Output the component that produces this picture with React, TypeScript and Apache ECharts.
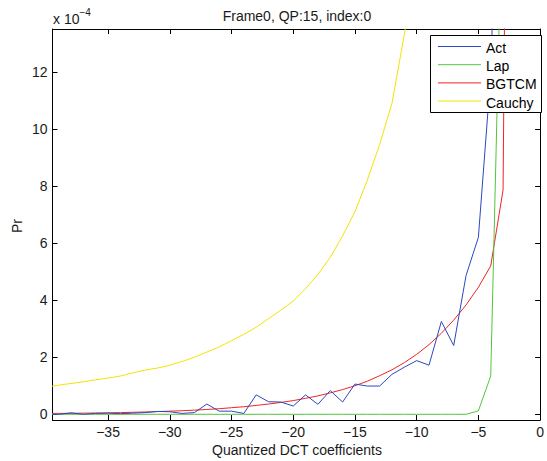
import React, { useEffect, useRef } from "react";
import * as echarts from "echarts";

// x positions (quantized DCT coefficient values)
const xs = [-40, -39, -38, -37, -36, -35, -34, -33, -32, -31, -30, -29, -28, -27, -26, -25, -24, -23, -22, -21,
  -20, -19, -18, -17, -16, -15, -14, -13, -12, -11, -10, -9, -8, -7, -6, -5, -4, -3, -2];

// probabilities in units of 1e-4
const act = [0.0, 0.0, 0.05, 0.0, 0.03, 0.04, 0.02, 0.04, 0.06, 0.1, 0.09, 0.03, 0.06, 0.36, 0.11, 0.11, 0.03, 0.68, 0.44, 0.43,
  0.29, 0.68, 0.35, 0.83, 0.43, 1.06, 0.99, 0.99, 1.4, 1.65, 1.88, 1.72, 3.25, 2.41, 4.86, 6.2, 11.9, 26, 40];
const lap = [0, 0, 0, 0, 0, 0, 0, 0, 0, 0, 0, 0, 0, 0, 0, 0, 0, 0, 0, 0,
  0, 0, 0, 0, 0, 0, 0, 0, 0, 0, 0, 0, 0, 0, 0, 0.12, 1.34, 19.5, 40];
const bgtcm = [0.03, 0.03, 0.035, 0.04, 0.045, 0.05, 0.06, 0.07, 0.08, 0.095, 0.11, 0.125, 0.145, 0.17, 0.195, 0.23, 0.265, 0.31, 0.36, 0.415,
  0.48, 0.56, 0.645, 0.75, 0.865, 1.0, 1.16, 1.35, 1.56, 1.81, 2.1, 2.44, 2.84, 3.3, 3.83, 4.45, 5.2, 7.86, 60];
const cauchy = [0.95, 1.02, 1.08, 1.14, 1.21, 1.27, 1.34, 1.45, 1.55, 1.62, 1.72, 1.85, 2.0, 2.18, 2.36, 2.58, 2.8, 3.05, 3.35, 3.65,
  3.97, 4.4, 4.9, 5.5, 6.25, 7.1, 8.2, 9.45, 10.9, 13.3, 16.0, 19.5, 23.5, 28, 33, 40, 48, 58, 70];

const xTicks = [-35, -30, -25, -20, -15, -10, -5, 0];
const yTicks = [0, 2, 4, 6, 8, 10, 12];
const seriesNames = ["Act", "Lap", "BGTCM", "Cauchy"];
const seriesColors = ["#2b48c0", "#52c43c", "#f02424", "#f2e400"];
const seriesData = [act, lap, bgtcm, cauchy];

const FONT = "Liberation Sans, Arial, Helvetica, sans-serif";

export default function App() {
  const ref = useRef<HTMLDivElement>(null);
  useEffect(() => {
    if (!ref.current) return;
    const chart = echarts.init(ref.current, null, { renderer: "svg" });
    const minus = (v: number) => String(v).replace("-", "\u2212");
    const xBase = {
      type: "value",
      min: -39.5,
      max: 0,
      splitLine: { show: false },
      axisLine: { show: true, onZero: false, lineStyle: { color: "#000", width: 1 } },
      axisTick: { show: true, inside: true, length: 5, customValues: xTicks, lineStyle: { color: "#000" } },
    };
    const yBase = {
      type: "value",
      min: -0.2,
      max: 13.5,
      splitLine: { show: false },
      axisLine: { show: true, onZero: false, lineStyle: { color: "#000", width: 1 } },
      axisTick: { show: true, inside: true, length: 5, customValues: yTicks, lineStyle: { color: "#000" } },
    };

    // manual MATLAB-style legend
    const legLeft = 430;
    const legTop = 35;
    const legW = 111;
    const legH = 77;
    const rowY0 = 46.5;
    const rowStep = 18.2;
    const legendGraphics: any[] = [
      {
        type: "rect",
        z: 100,
        shape: { x: legLeft + 0.5, y: legTop + 0.5, width: legW, height: legH },
        style: { fill: "#fff", stroke: "#000", lineWidth: 1 },
      },
    ];
    seriesNames.forEach((name, i) => {
      const y = rowY0 + i * rowStep;
      legendGraphics.push({
        type: "line",
        z: 101,
        shape: { x1: 438, y1: y, x2: 481, y2: y },
        style: { stroke: seriesColors[i], lineWidth: 1 },
      });
      legendGraphics.push({
        type: "text",
        z: 101,
        style: {
          text: name,
          x: 486,
          y: y + 1.5,
          fill: "#000",
          font: `14px ${FONT}`,
          textAlign: "left",
          textVerticalAlign: "middle",
        },
      });
    });

    chart.setOption({
      animation: false,
      textStyle: { fontFamily: FONT },
      grid: { left: 52.5, top: 29, right: 5, bottom: 41, containLabel: false },
      xAxis: [
        {
          ...xBase,
          position: "bottom",
          axisLabel: {
            customValues: xTicks,
            formatter: (v: number) => minus(v),
            fontSize: 14,
            color: "#1a1a1a",
            margin: 5,
            fontFamily: FONT,
          },
        },
        { ...xBase, position: "top", axisLabel: { show: false } },
      ],
      yAxis: [
        {
          ...yBase,
          position: "left",
          axisLabel: {
            customValues: yTicks,
            fontSize: 14,
            color: "#1a1a1a",
            margin: 5,
            fontFamily: FONT,
          },
        },
        { ...yBase, position: "right", axisLabel: { show: false } },
      ],
      series: seriesNames.map((name, i) => ({
        name,
        type: "line",
        data: xs.map((x, j) => [x, seriesData[i][j]]),
        symbol: "none",
        clip: true,
        lineStyle: { color: seriesColors[i], width: 1 },
        itemStyle: { color: seriesColors[i] },
        z: 2 + (3 - i),
      })),
      graphic: [
        {
          type: "text",
          style: {
            text: "Frame0, QP:15, index:0",
            x: 297,
            y: 16,
            fill: "#1a1a1a",
            font: `14px ${FONT}`,
            textAlign: "center",
            textVerticalAlign: "middle",
          },
        },
        {
          type: "text",
          style: {
            text: "x 10",
            x: 53,
            y: 19,
            fill: "#1a1a1a",
            font: `14px ${FONT}`,
            textAlign: "left",
            textVerticalAlign: "middle",
          },
        },
        {
          type: "text",
          style: {
            text: "\u22124",
            x: 79.5,
            y: 12,
            fill: "#1a1a1a",
            font: `10px ${FONT}`,
            textAlign: "left",
            textVerticalAlign: "middle",
          },
        },
        {
          type: "text",
          style: {
            text: "Quantized DCT coefficients",
            x: 297,
            y: 450,
            fill: "#1a1a1a",
            font: `14px ${FONT}`,
            textAlign: "center",
            textVerticalAlign: "middle",
          },
        },
        {
          type: "text",
          x: 17,
          y: 226,
          rotation: Math.PI / 2,
          style: {
            text: "Pr",
            x: 0,
            y: 0,
            fill: "#1a1a1a",
            font: `14px ${FONT}`,
            textAlign: "center",
            textVerticalAlign: "middle",
          },
        },
        ...legendGraphics,
      ],
    });
    return () => chart.dispose();
  }, []);
  return (
    <div
      ref={ref}
      style={{ position: "absolute", left: 0, top: 0, width: 547, height: 461, background: "#fff" }}
    />
  );
}
